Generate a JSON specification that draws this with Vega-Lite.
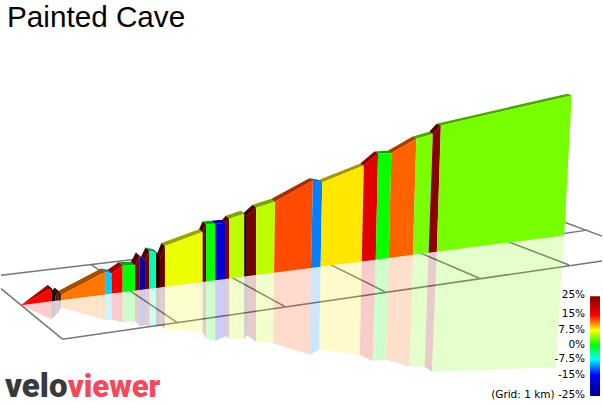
{
  "$schema": "https://vega.github.io/schema/vega-lite/v6.json",
  "description": "VeloViewer 3D elevation profile of the Painted Cave climb, coloured by gradient.",
  "autosize": {"type": "fit", "contains": "padding"},
  "width": 603,
  "height": 404,
  "padding": 0,
  "background": "white",
  "view": {"stroke": null},
  "datasets": {
    "grid": [
      {"x": 0, "y": 276, "x2": 135, "y2": 260},
      {"x": 565, "y": 234, "x2": 588, "y2": 230.7},
      {"x": 0, "y": 289.3, "x2": 61.7, "y2": 340},
      {"x": 61.7, "y": 340, "x2": 603, "y2": 261.7},
      {"x": 90, "y": 265, "x2": 176.7, "y2": 323.3},
      {"x": 210, "y": 266.5, "x2": 285, "y2": 307.3},
      {"x": 320, "y": 260, "x2": 385, "y2": 292.3},
      {"x": 410, "y": 249, "x2": 480, "y2": 279},
      {"x": 495, "y": 237, "x2": 570, "y2": 265.7},
      {"x": 566, "y": 223, "x2": 603, "y2": 236.7}
    ],
    "profile": [
      {"s":1,"g":15,"o":1,"x":20,"y":306,"cx":20,"cy":306,"rx":20,"ry":306},
      {"s":1,"g":15,"o":2,"x":50.7,"y":289.3,"cx":46.7,"cy":285.8,"rx":50.7,"ry":320},
      {"s":1,"g":15,"o":3,"x":50.7,"y":302.1,"cx":50.7,"cy":289.3,"rx":50.7,"ry":302.1},
      {"s":1,"g":15,"o":4,"x":20,"y":306,"cx":20,"cy":306,"rx":20,"ry":306},
      {"s":2,"g":40,"o":1,"x":50.7,"y":289.3,"cx":46.7,"cy":285.8,"rx":50.7,"ry":320},
      {"s":2,"g":40,"o":2,"x":54.7,"y":296,"cx":50.7,"cy":292.5,"rx":54.7,"ry":316},
      {"s":2,"g":40,"o":3,"x":54.7,"y":301.5,"cx":54.7,"cy":296,"rx":54.7,"ry":301.5},
      {"s":2,"g":40,"o":4,"x":50.7,"y":302.1,"cx":50.7,"cy":289.3,"rx":50.7,"ry":302.1},
      {"s":3,"g":25,"o":1,"x":54.7,"y":296,"cx":50.7,"cy":292.5,"rx":54.7,"ry":316},
      {"s":3,"g":25,"o":2,"x":57.7,"y":292,"cx":53.7,"cy":288.5,"rx":57.7,"ry":313},
      {"s":3,"g":25,"o":3,"x":57.7,"y":301.2,"cx":57.7,"cy":292,"rx":57.7,"ry":301.2},
      {"s":3,"g":25,"o":4,"x":54.7,"y":301.5,"cx":54.7,"cy":296,"rx":54.7,"ry":301.5},
      {"s":4,"g":40,"o":1,"x":57.7,"y":292,"cx":53.7,"cy":288.5,"rx":57.7,"ry":313},
      {"s":4,"g":40,"o":2,"x":60,"y":296,"cx":56,"cy":292.5,"rx":60,"ry":308},
      {"s":4,"g":40,"o":3,"x":60,"y":300.9,"cx":60,"cy":296,"rx":60,"ry":300.9},
      {"s":4,"g":40,"o":4,"x":57.7,"y":301.2,"cx":57.7,"cy":292,"rx":57.7,"ry":301.2},
      {"s":5,"g":11.5,"o":1,"x":60,"y":296,"cx":56,"cy":292.5,"rx":60,"ry":308},
      {"s":5,"g":11.5,"o":2,"x":104.5,"y":272.7,"cx":100.5,"cy":269.2,"rx":104.5,"ry":321},
      {"s":5,"g":11.5,"o":3,"x":104.5,"y":295.2,"cx":104.5,"cy":272.7,"rx":104.5,"ry":295.2},
      {"s":5,"g":11.5,"o":4,"x":60,"y":300.9,"cx":60,"cy":296,"rx":60,"ry":300.9},
      {"s":6,"g":-9,"o":1,"x":104.5,"y":272.7,"cx":100.5,"cy":269.2,"rx":104.5,"ry":321},
      {"s":6,"g":-9,"o":2,"x":111,"y":274,"cx":107,"cy":270.5,"rx":111,"ry":320},
      {"s":6,"g":-9,"o":3,"x":111,"y":294.3,"cx":111,"cy":274,"rx":111,"ry":294.3},
      {"s":6,"g":-9,"o":4,"x":104.5,"y":295.2,"cx":104.5,"cy":272.7,"rx":104.5,"ry":295.2},
      {"s":7,"g":16,"o":1,"x":111,"y":274,"cx":107,"cy":270.5,"rx":111,"ry":320},
      {"s":7,"g":16,"o":2,"x":122,"y":266.5,"cx":118,"cy":263,"rx":122,"ry":323},
      {"s":7,"g":16,"o":3,"x":122,"y":292.9,"cx":122,"cy":266.5,"rx":122,"ry":292.9},
      {"s":7,"g":16,"o":4,"x":111,"y":294.3,"cx":111,"cy":274,"rx":111,"ry":294.3},
      {"s":8,"g":0,"o":1,"x":122,"y":266.5,"cx":118,"cy":263,"rx":122,"ry":323},
      {"s":8,"g":0,"o":2,"x":134.5,"y":266,"cx":130.5,"cy":262.5,"rx":134.5,"ry":322},
      {"s":8,"g":0,"o":3,"x":134.5,"y":291.3,"cx":134.5,"cy":266,"rx":134.5,"ry":291.3},
      {"s":8,"g":0,"o":4,"x":122,"y":292.9,"cx":122,"cy":266.5,"rx":122,"ry":292.9},
      {"s":9,"g":25,"o":1,"x":134.5,"y":266,"cx":130.5,"cy":262.5,"rx":134.5,"ry":322},
      {"s":9,"g":25,"o":2,"x":139.3,"y":256.7,"cx":135.3,"cy":253.2,"rx":139.3,"ry":327},
      {"s":9,"g":25,"o":3,"x":139.3,"y":290.7,"cx":139.3,"cy":256.7,"rx":139.3,"ry":290.7},
      {"s":9,"g":25,"o":4,"x":134.5,"y":291.3,"cx":134.5,"cy":266,"rx":134.5,"ry":291.3},
      {"s":10,"g":-22,"o":1,"x":139.3,"y":256.7,"cx":135.3,"cy":253.2,"rx":139.3,"ry":327},
      {"s":10,"g":-22,"o":2,"x":144.5,"y":261,"cx":140.5,"cy":257.5,"rx":144.5,"ry":326},
      {"s":10,"g":-22,"o":3,"x":144.5,"y":290,"cx":144.5,"cy":261,"rx":144.5,"ry":290},
      {"s":10,"g":-22,"o":4,"x":139.3,"y":290.7,"cx":139.3,"cy":256.7,"rx":139.3,"ry":290.7},
      {"s":11,"g":25,"o":1,"x":144.5,"y":261,"cx":140.5,"cy":257.5,"rx":144.5,"ry":326},
      {"s":11,"g":25,"o":2,"x":149,"y":251.5,"cx":145,"cy":248,"rx":149,"ry":327},
      {"s":11,"g":25,"o":3,"x":149,"y":289.4,"cx":149,"cy":251.5,"rx":149,"ry":289.4},
      {"s":11,"g":25,"o":4,"x":144.5,"y":290,"cx":144.5,"cy":261,"rx":144.5,"ry":290},
      {"s":12,"g":-5.2,"o":1,"x":149,"y":251.5,"cx":145,"cy":248,"rx":149,"ry":327},
      {"s":12,"g":-5.2,"o":2,"x":155.5,"y":252.5,"cx":152,"cy":249.5,"rx":155.5,"ry":327},
      {"s":12,"g":-5.2,"o":3,"x":155.5,"y":288.6,"cx":155.5,"cy":252.5,"rx":155.5,"ry":288.6},
      {"s":12,"g":-5.2,"o":4,"x":149,"y":289.4,"cx":149,"cy":251.5,"rx":149,"ry":289.4},
      {"s":13,"g":38,"o":1,"x":155.5,"y":252.5,"cx":152,"cy":249.5,"rx":155.5,"ry":327},
      {"s":13,"g":38,"o":2,"x":159.5,"y":259,"cx":156,"cy":256,"rx":159.5,"ry":326.5},
      {"s":13,"g":38,"o":3,"x":159.5,"y":288.1,"cx":159.5,"cy":259,"rx":159.5,"ry":288.1},
      {"s":13,"g":38,"o":4,"x":155.5,"y":288.6,"cx":155.5,"cy":252.5,"rx":155.5,"ry":288.6},
      {"s":14,"g":28,"o":1,"x":159.5,"y":259,"cx":156,"cy":256,"rx":159.5,"ry":326.5},
      {"s":14,"g":28,"o":2,"x":164.5,"y":246.5,"cx":161,"cy":243.5,"rx":164.5,"ry":329.5},
      {"s":14,"g":28,"o":3,"x":164.5,"y":287.4,"cx":164.5,"cy":246.5,"rx":164.5,"ry":287.4},
      {"s":14,"g":28,"o":4,"x":159.5,"y":288.1,"cx":159.5,"cy":259,"rx":159.5,"ry":288.1},
      {"s":15,"g":6.9,"o":1,"x":164.5,"y":246.5,"cx":161,"cy":243.5,"rx":164.5,"ry":329.5},
      {"s":15,"g":6.9,"o":2,"x":202.3,"y":232.7,"cx":198.8,"cy":229.7,"rx":202.3,"ry":333.3},
      {"s":15,"g":6.9,"o":3,"x":202.3,"y":282.6,"cx":202.3,"cy":232.7,"rx":202.3,"ry":282.6},
      {"s":15,"g":6.9,"o":4,"x":164.5,"y":287.4,"cx":164.5,"cy":246.5,"rx":164.5,"ry":287.4},
      {"s":16,"g":27,"o":1,"x":202.3,"y":232.7,"cx":198.8,"cy":229.7,"rx":202.3,"ry":333.3},
      {"s":16,"g":27,"o":2,"x":205.7,"y":225,"cx":202.2,"cy":222,"rx":205.7,"ry":339},
      {"s":16,"g":27,"o":3,"x":205.7,"y":282.2,"cx":205.7,"cy":225,"rx":205.7,"ry":282.2},
      {"s":16,"g":27,"o":4,"x":202.3,"y":282.6,"cx":202.3,"cy":232.7,"rx":202.3,"ry":282.6},
      {"s":17,"g":0.3,"o":1,"x":205.7,"y":225,"cx":202.2,"cy":222,"rx":205.7,"ry":339},
      {"s":17,"g":0.3,"o":2,"x":215,"y":224.3,"cx":211.5,"cy":221.3,"rx":215,"ry":341.7},
      {"s":17,"g":0.3,"o":3,"x":215,"y":281,"cx":215,"cy":224.3,"rx":215,"ry":281},
      {"s":17,"g":0.3,"o":4,"x":205.7,"y":282.2,"cx":205.7,"cy":225,"rx":205.7,"ry":282.2},
      {"s":18,"g":-18,"o":1,"x":215,"y":224.3,"cx":211.5,"cy":221.3,"rx":215,"ry":341.7},
      {"s":18,"g":-18,"o":2,"x":225.7,"y":223.3,"cx":222.2,"cy":220.3,"rx":225.7,"ry":337},
      {"s":18,"g":-18,"o":3,"x":225.7,"y":279.6,"cx":225.7,"cy":223.3,"rx":225.7,"ry":279.6},
      {"s":18,"g":-18,"o":4,"x":215,"y":281,"cx":215,"cy":224.3,"rx":215,"ry":281},
      {"s":19,"g":25,"o":1,"x":225.7,"y":223.3,"cx":222.2,"cy":220.3,"rx":225.7,"ry":337},
      {"s":19,"g":25,"o":2,"x":229,"y":219.3,"cx":225.5,"cy":216.3,"rx":229,"ry":339.3},
      {"s":19,"g":25,"o":3,"x":229,"y":279.2,"cx":229,"cy":219.3,"rx":229,"ry":279.2},
      {"s":19,"g":25,"o":4,"x":225.7,"y":279.6,"cx":225.7,"cy":223.3,"rx":225.7,"ry":279.6},
      {"s":20,"g":5.6,"o":1,"x":229,"y":219.3,"cx":225.5,"cy":216.3,"rx":229,"ry":339.3},
      {"s":20,"g":5.6,"o":2,"x":244,"y":214.3,"cx":240.5,"cy":211.3,"rx":244,"ry":340},
      {"s":20,"g":5.6,"o":3,"x":244,"y":277.2,"cx":244,"cy":214.3,"rx":244,"ry":277.2},
      {"s":20,"g":5.6,"o":4,"x":229,"y":279.2,"cx":229,"cy":219.3,"rx":229,"ry":279.2},
      {"s":21,"g":36,"o":1,"x":244,"y":214.3,"cx":240.5,"cy":211.3,"rx":244,"ry":340},
      {"s":21,"g":36,"o":2,"x":246.7,"y":216.7,"cx":243.2,"cy":213.7,"rx":246.7,"ry":336},
      {"s":21,"g":36,"o":3,"x":246.7,"y":276.9,"cx":246.7,"cy":216.7,"rx":246.7,"ry":276.9},
      {"s":21,"g":36,"o":4,"x":244,"y":277.2,"cx":244,"cy":214.3,"rx":244,"ry":277.2},
      {"s":22,"g":26,"o":1,"x":246.7,"y":216.7,"cx":243.2,"cy":213.7,"rx":246.7,"ry":336},
      {"s":22,"g":26,"o":2,"x":256,"y":208.3,"cx":252.5,"cy":205.3,"rx":256,"ry":342.7},
      {"s":22,"g":26,"o":3,"x":256,"y":275.7,"cx":256,"cy":208.3,"rx":256,"ry":275.7},
      {"s":22,"g":26,"o":4,"x":246.7,"y":276.9,"cx":246.7,"cy":216.7,"rx":246.7,"ry":276.9},
      {"s":23,"g":5.6,"o":1,"x":256,"y":208.3,"cx":252.5,"cy":205.3,"rx":256,"ry":342.7},
      {"s":23,"g":5.6,"o":2,"x":275,"y":202.3,"cx":271.5,"cy":199.3,"rx":273,"ry":344},
      {"s":23,"g":5.6,"o":3,"x":274,"y":273.4,"cx":275,"cy":202.3,"rx":274,"ry":273.4},
      {"s":23,"g":5.6,"o":4,"x":256,"y":275.7,"cx":256,"cy":208.3,"rx":256,"ry":275.7},
      {"s":24,"g":12.8,"o":1,"x":275,"y":202.3,"cx":271.5,"cy":199.3,"rx":273,"ry":344},
      {"s":24,"g":12.8,"o":2,"x":313,"y":181,"cx":309.5,"cy":178.8,"rx":310,"ry":355.7},
      {"s":24,"g":12.8,"o":3,"x":311,"y":268.6,"cx":313,"cy":181,"rx":311,"ry":268.6},
      {"s":24,"g":12.8,"o":4,"x":274,"y":273.4,"cx":275,"cy":202.3,"rx":274,"ry":273.4},
      {"s":25,"g":-11.25,"o":1,"x":313,"y":181,"cx":309.5,"cy":178.8,"rx":310,"ry":355.7},
      {"s":25,"g":-11.25,"o":2,"x":322.3,"y":182.7,"cx":318.8,"cy":180.5,"rx":319.3,"ry":350.7},
      {"s":25,"g":-11.25,"o":3,"x":320.7,"y":267.4,"cx":322.3,"cy":182.7,"rx":320.7,"ry":267.4},
      {"s":25,"g":-11.25,"o":4,"x":311,"y":268.6,"cx":313,"cy":181,"rx":311,"ry":268.6},
      {"s":26,"g":8.2,"o":1,"x":322.3,"y":182.7,"cx":318.8,"cy":180.5,"rx":319.3,"ry":350.7},
      {"s":26,"g":8.2,"o":2,"x":364,"y":166,"cx":360.5,"cy":163.8,"rx":360,"ry":355.7},
      {"s":26,"g":8.2,"o":3,"x":362,"y":262.1,"cx":364,"cy":166,"rx":362,"ry":262.1},
      {"s":26,"g":8.2,"o":4,"x":320.7,"y":267.4,"cx":322.3,"cy":182.7,"rx":320.7,"ry":267.4},
      {"s":27,"g":17.4,"o":1,"x":364,"y":166,"cx":360.5,"cy":163.8,"rx":360,"ry":355.7},
      {"s":27,"g":17.4,"o":2,"x":378.3,"y":154,"cx":374.8,"cy":151.8,"rx":372.7,"ry":362},
      {"s":27,"g":17.4,"o":3,"x":376,"y":260.3,"cx":378.3,"cy":154,"rx":376,"ry":260.3},
      {"s":27,"g":17.4,"o":4,"x":362,"y":262.1,"cx":364,"cy":166,"rx":362,"ry":262.1},
      {"s":28,"g":0.2,"o":1,"x":378.3,"y":154,"cx":374.8,"cy":151.8,"rx":372.7,"ry":362},
      {"s":28,"g":0.2,"o":2,"x":391.7,"y":153.3,"cx":388.2,"cy":151.1,"rx":386,"ry":360.7},
      {"s":28,"g":0.2,"o":3,"x":389,"y":258.6,"cx":391.7,"cy":153.3,"rx":389,"ry":258.6},
      {"s":28,"g":0.2,"o":4,"x":376,"y":260.3,"cx":378.3,"cy":154,"rx":376,"ry":260.3},
      {"s":29,"g":12.1,"o":1,"x":391.7,"y":153.3,"cx":388.2,"cy":151.1,"rx":386,"ry":360.7},
      {"s":29,"g":12.1,"o":2,"x":416.7,"y":139,"cx":413.2,"cy":136.8,"rx":410,"ry":367.3},
      {"s":29,"g":12.1,"o":3,"x":413.3,"y":255.5,"cx":416.7,"cy":139,"rx":413.3,"ry":255.5},
      {"s":29,"g":12.1,"o":4,"x":389,"y":258.6,"cx":391.7,"cy":153.3,"rx":389,"ry":258.6},
      {"s":30,"g":3.6,"o":1,"x":416.7,"y":139,"cx":413.2,"cy":136.8,"rx":410,"ry":367.3},
      {"s":30,"g":3.6,"o":2,"x":433.3,"y":134.3,"cx":429.8,"cy":132.1,"rx":425,"ry":367.7},
      {"s":30,"g":3.6,"o":3,"x":429,"y":253.5,"cx":433.3,"cy":134.3,"rx":429,"ry":253.5},
      {"s":30,"g":3.6,"o":4,"x":413.3,"y":255.5,"cx":416.7,"cy":139,"rx":413.3,"ry":255.5},
      {"s":31,"g":24,"o":1,"x":433.3,"y":134.3,"cx":429.8,"cy":132.1,"rx":425,"ry":367.7},
      {"s":31,"g":24,"o":2,"x":441.3,"y":125.7,"cx":437,"cy":124,"rx":432.3,"ry":372.7},
      {"s":31,"g":24,"o":3,"x":437.3,"y":252.4,"cx":441.3,"cy":125.7,"rx":437.3,"ry":252.4},
      {"s":31,"g":24,"o":4,"x":429,"y":253.5,"cx":433.3,"cy":134.3,"rx":429,"ry":253.5},
      {"s":32,"g":3.5,"o":1,"x":441.3,"y":125.7,"cx":437,"cy":124,"rx":432.3,"ry":372.7},
      {"s":32,"g":3.5,"o":2,"x":572.7,"y":95.7,"cx":568.4,"cy":94,"rx":556.7,"ry":368.3},
      {"s":32,"g":3.5,"o":3,"x":565,"y":236,"cx":572.7,"cy":95.7,"rx":565,"ry":236},
      {"s":32,"g":3.5,"o":4,"x":437.3,"y":252.4,"cx":441.3,"cy":125.7,"rx":437.3,"ry":252.4}
    ],
    "scale": [
      {"label": "25%", "x": 586, "y": 296},
      {"label": "15%", "x": 586, "y": 315},
      {"label": "7.5%", "x": 586, "y": 331},
      {"label": "0%", "x": 586, "y": 346},
      {"label": "-7.5%", "x": 586, "y": 360},
      {"label": "-15%", "x": 586, "y": 376},
      {"label": "(Grid: 1 km) -25%", "x": 586, "y": 396}
    ]
  },
  "data": {"name": "profile"},
  "encoding": {
    "x": {"type": "quantitative", "scale": {"domain": [0, 603], "nice": false, "zero": false}, "axis": null},
    "y": {"type": "quantitative", "scale": {"domain": [404, 0], "nice": false, "zero": false}, "axis": null}
  },
  "layer": [
    {
      "data": {"name": "grid"},
      "mark": {"type": "rule", "color": "#777777", "strokeWidth": 1.5},
      "encoding": {
        "x": {"field": "x"},
        "y": {"field": "y"},
        "x2": {"field": "x2"},
        "y2": {"field": "y2"}
      }
    },
    {
      "mark": {"type": "line", "filled": true, "opacity": 0.2, "strokeWidth": 0},
      "encoding": {
        "x": {"field": "rx"},
        "y": {"field": "ry"},
        "detail": {"field": "s"},
        "order": {"field": "o"},
        "color": {"field": "g", "type": "quantitative", "legend": null,
          "scale": {"interpolate": "rgb", "domain": [-25, -15, -7.5, 0, 7.5, 15, 25, 40], "range": ["#000080", "#0000ff", "#00ffff", "#00ff00", "#ffff00", "#ff0000", "#800000", "#000000"]}}
      }
    },
    {
      "mark": {"type": "line", "filled": true, "opacity": 1, "strokeWidth": 0},
      "encoding": {
        "x": {"field": "cx"},
        "y": {"field": "cy"},
        "detail": {"field": "s"},
        "order": {"field": "o"},
        "color": {"field": "g", "type": "quantitative", "legend": null,
          "scale": {"interpolate": "rgb", "domain": [-25, -15, -7.5, 0, 7.5, 15, 25, 40], "range": ["#000080", "#0000ff", "#00ffff", "#00ff00", "#ffff00", "#ff0000", "#800000", "#000000"]}}
      }
    },
    {
      "mark": {"type": "line", "filled": true, "strokeWidth": 0, "color": "#000000", "opacity": 0.35},
      "encoding": {
        "x": {"field": "cx"},
        "y": {"field": "cy"},
        "detail": {"field": "s"},
        "order": {"field": "o"}
      }
    },
    {
      "mark": {"type": "line", "filled": true, "opacity": 1, "strokeWidth": 0},
      "encoding": {
        "x": {"field": "x"},
        "y": {"field": "y"},
        "detail": {"field": "s"},
        "order": {"field": "o"},
        "color": {"field": "g", "type": "quantitative", "legend": null,
          "scale": {"interpolate": "rgb", "domain": [-25, -15, -7.5, 0, 7.5, 15, 25, 40], "range": ["#000080", "#0000ff", "#00ffff", "#00ff00", "#ffff00", "#ff0000", "#800000", "#000000"]}}
      }
    },
    {
      "data": {"values": [{"x": 591, "x2": 601, "y": 297, "y2": 397}]},
      "mark": {
        "type": "rect",
        "fill": {
          "gradient": "linear", "x1": 0, "y1": 0, "x2": 0, "y2": 1,
          "stops": [
            {"offset": 0, "color": "#800000"},
            {"offset": 0.19, "color": "#ff0000"},
            {"offset": 0.34, "color": "#ffff00"},
            {"offset": 0.49, "color": "#00ff00"},
            {"offset": 0.63, "color": "#00ffff"},
            {"offset": 0.79, "color": "#0000ff"},
            {"offset": 1, "color": "#000080"}
          ]
        }
      },
      "encoding": {
        "x": {"field": "x"},
        "x2": {"field": "x2"},
        "y": {"field": "y"},
        "y2": {"field": "y2"}
      }
    },
    {
      "data": {"name": "scale"},
      "mark": {"type": "text", "align": "right", "baseline": "middle", "font": "DejaVu Sans", "fontSize": 10.5, "color": "#000000"},
      "encoding": {
        "x": {"field": "x"},
        "y": {"field": "y"},
        "text": {"field": "label"}
      }
    },
    {
      "data": {"values": [{"label": "Painted Cave", "x": 6, "y": 27}]},
      "mark": {"type": "text", "align": "left", "baseline": "alphabetic", "font": "Liberation Sans", "fontSize": 29.7, "color": "#000000"},
      "encoding": {
        "x": {"field": "x"},
        "y": {"field": "y"},
        "text": {"field": "label"}
      }
    },
    {
      "data": {"values": [{"label": "velo", "x": 4, "y": 398}]},
      "mark": {"type": "text", "align": "left", "baseline": "alphabetic", "font": "Roboto", "fontWeight": 900, "fontSize": 33, "color": "#3a3a3a"},
      "encoding": {
        "x": {"field": "x"},
        "y": {"field": "y"},
        "text": {"field": "label"}
      }
    },
    {
      "data": {"values": [{"label": "viewer", "x": 67, "y": 398}]},
      "mark": {"type": "text", "align": "left", "baseline": "alphabetic", "font": "Roboto", "fontWeight": 900, "fontSize": 31, "color": "#f2495c"},
      "encoding": {
        "x": {"field": "x"},
        "y": {"field": "y"},
        "text": {"field": "label"}
      }
    }
  ]
}
